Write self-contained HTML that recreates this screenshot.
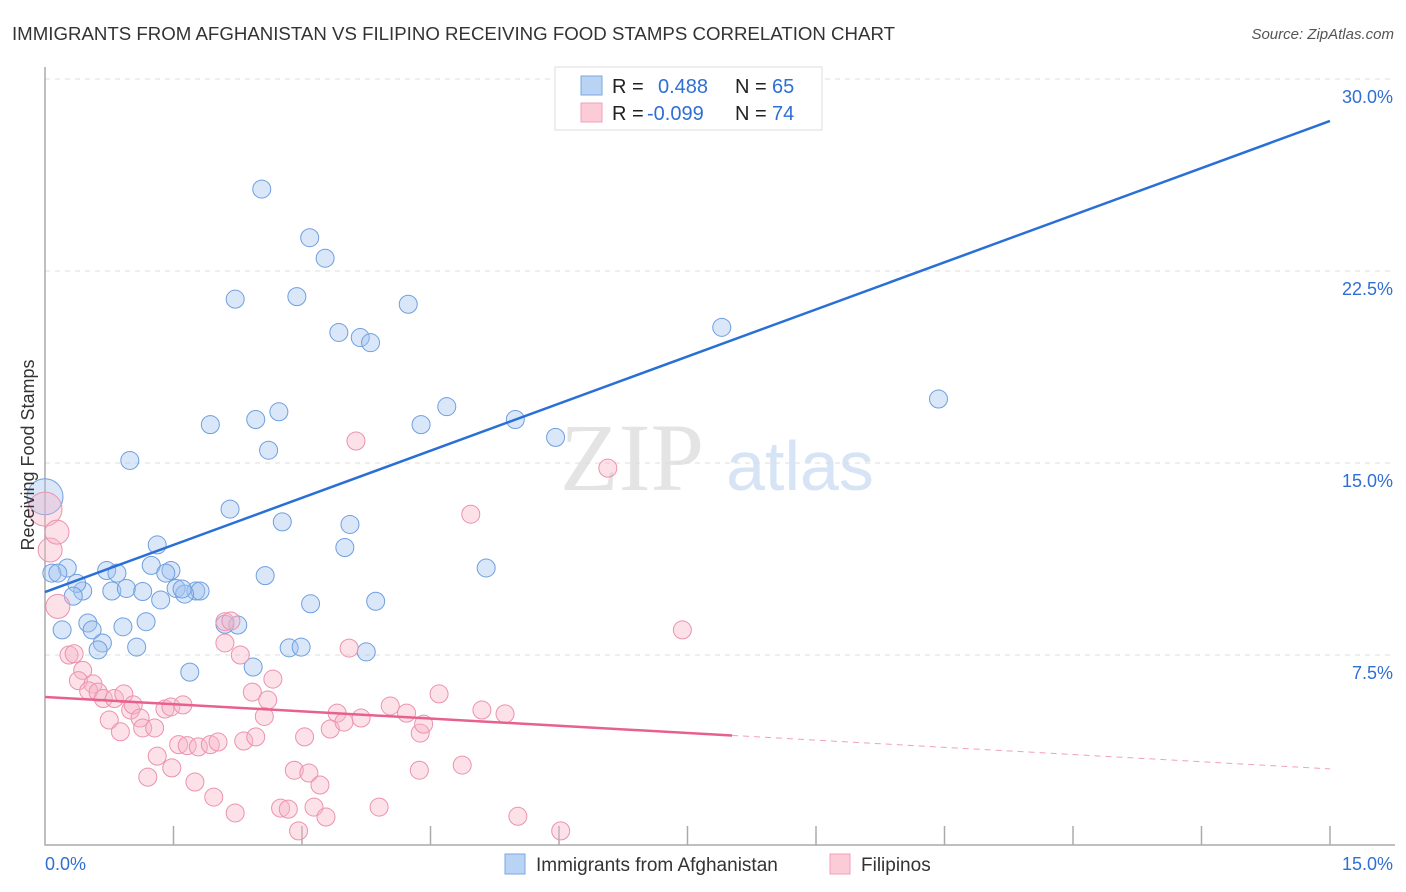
<!DOCTYPE html>
<html><head><meta charset="utf-8"><style>
body{margin:0;background:#fff;font-family:"Liberation Sans",sans-serif;}
svg{display:block}
</style></head><body>
<svg id="c" width="1406" height="892" xmlns="http://www.w3.org/2000/svg">
<text x="12" y="40" font-size="18" fill="#333" textLength="883" lengthAdjust="spacingAndGlyphs">IMMIGRANTS FROM AFGHANISTAN VS FILIPINO RECEIVING FOOD STAMPS CORRELATION CHART</text>
<text x="1394" y="39" font-size="15" fill="#555" font-style="italic" text-anchor="end">Source: ZipAtlas.com</text>
<text x="632" y="490" font-size="96" fill="#e4e4e4" font-family="Liberation Serif,serif" text-anchor="middle">ZIP</text>
<text x="800" y="490" font-size="70" fill="#d6e4f5" text-anchor="middle">atlas</text>
<g id="grid"></g>
<g id="pts"></g>
<g id="lines"></g>
<text transform="translate(34,455) rotate(-90)" font-size="18" fill="#333" text-anchor="middle">Receiving Food Stamps</text>
<g>
<rect x="555" y="67" width="267" height="63" fill="#fff" stroke="#ddd"/>
<rect x="581" y="76" width="21" height="19" fill="#b9d3f4" stroke="#7aa7e0"/>
<rect x="581" y="103" width="21" height="19" fill="#fbcbd8" stroke="#f0a0b8"/>
<text font-size="20" fill="#222"><tspan x="612" y="93">R =</tspan><tspan x="612" y="120">R =</tspan><tspan x="735" y="93">N =</tspan><tspan x="735" y="120">N =</tspan></text>
<text font-size="20" fill="#2f6fd4"><tspan x="658" y="93">0.488</tspan><tspan x="647" y="120">-0.099</tspan><tspan x="772" y="93">65</tspan><tspan x="772" y="120">74</tspan></text>
</g>
<g>
<rect x="505" y="854" width="20" height="20" fill="#b9d3f4" stroke="#7aa7e0"/>
<text x="536" y="871" font-size="19" fill="#333">Immigrants from Afghanistan</text>
<rect x="830" y="854" width="20" height="20" fill="#fbcbd8" stroke="#f0a0b8"/>
<text x="861" y="871" font-size="19" fill="#333">Filipinos</text>
</g>
</svg>
<script>
const yTicks=[7.5,15,22.5,30];
const xTickLabels=["0.0%","15.0%"];
const blueX=[2.53,3.09,3.27,2.22,2.94,4.24,3.43,3.68,3.80,7.90,10.43,4.69,5.49,4.39,1.93,2.73,2.46,5.96,2.61,0.99,2.16,2.77,3.56,1.31,3.50,1.24,1.47,0.26,0.44,0.78,1.76,1.81,0.72,0.08,0.15,0.84,1.41,2.57,5.15,0.37,0.95,1.14,1.53,1.63,1.60,0.33,1.35,3.86,3.10,0.50,1.18,0.91,2.10,2.25,0.20,0.55,0.67,0.62,1.07,2.85,2.99,3.75,1.69,2.43,0.0];
const blueY=[25.7,23.8,23.0,21.4,21.5,21.2,20.1,19.9,19.7,20.3,17.5,17.2,16.7,16.5,16.5,17.0,16.7,16.0,15.5,15.1,13.2,12.7,12.6,11.8,11.7,11.0,10.8,10.9,10.0,10.0,10.0,10.0,10.8,10.7,10.7,10.7,10.7,10.6,10.9,10.3,10.1,9.98,10.1,9.88,10.08,9.8,9.65,9.6,9.5,8.75,8.8,8.6,8.7,8.67,8.48,8.48,7.97,7.7,7.81,7.78,7.81,7.62,6.83,7.03,13.68];
const blueR=[9,9,9,9,9,9,9,9,9,9,9,9,9,9,9,9,9,9,9,9,9,9,9,9,9,9,9,9,9,9,9,9,9,9,9,9,9,9,9,9,9,9,9,9,9,9,9,9,9,9,9,9,9,9,9,9,9,9,9,9,9,9,9,9,18];
const pinkX=[0.0,0.06,0.14,0.15,0.28,0.34,0.44,0.39,0.56,0.51,0.62,0.68,0.75,0.81,0.88,0.92,1.00,1.03,1.11,1.14,1.28,1.20,1.31,1.48,1.40,1.47,1.61,1.56,1.66,1.75,1.79,1.93,1.97,2.02,2.10,2.17,2.10,2.22,2.28,2.32,2.42,2.46,2.56,2.60,2.66,2.75,2.84,2.96,2.91,3.08,3.03,3.14,3.21,3.28,3.33,3.41,3.49,3.55,3.69,3.63,4.03,3.90,4.22,4.37,4.38,4.42,4.60,4.87,4.97,5.10,5.37,5.52,6.02,6.57,7.44];
const pinkY=[13.2,11.6,12.3,9.4,7.5,7.55,6.9,6.5,6.37,6.1,6.05,5.8,4.96,5.8,4.5,5.98,5.35,5.55,5.04,4.65,4.65,2.73,3.55,3.09,5.39,5.47,5.55,4.0,3.96,2.54,3.91,4.0,1.95,4.1,8.8,8.83,7.97,1.33,7.5,4.14,6.05,4.3,5.1,5.74,6.56,1.52,1.48,0.63,3.0,2.89,4.3,1.56,2.42,1.17,4.61,5.23,4.88,7.77,5.04,15.86,5.51,1.56,5.23,3.0,4.45,4.8,5.98,3.2,13.0,5.35,5.2,1.2,0.63,14.8,8.48];
const blueLine=[9.96,28.36];
const pinkLine=[5.86,3.05];
const pinkSolidEnd=8.02;
const X0=45,X1=1330,XMAX=15,Y0=847,PX=25.6;
const sx=v=>X0+v/XMAX*(X1-X0);
const sy=v=>Y0-v*PX;
const NS="http://www.w3.org/2000/svg";
function mk(tag,attrs,parent){const e=document.createElementNS(NS,tag);for(const k in attrs)e.setAttribute(k,attrs[k]);parent.appendChild(e);return e;}
const grid=document.getElementById('grid');
yTicks.forEach((t,i)=>{
 const l=mk('line',{x1:X0,x2:1395,y1:sy(t),y2:sy(t),stroke:'#ddd','stroke-dasharray':'5,5'},grid);
 
 
 const tx=mk('text',{x:1393,y:sy(t)+24,'font-size':18,fill:'#2f6fd4','text-anchor':'end'},grid);
 tx.textContent=t.toFixed(1)+'%';
 
 
});
const ax=mk('path',{d:`M${X0} 67V845H1395`,stroke:'#aaa',fill:'none','stroke-width':1.5},grid);


for(let i=1;i<=10;i++){const xx=sx(i*1.5);const t=mk('line',{x1:xx,x2:xx,y1:826,y2:845,stroke:'#aaa','stroke-width':1.5},grid);
 
 }
[[45,'start',xTickLabels[0]],[1393,'end',xTickLabels[1]]].forEach(([x,a,s])=>{const t=mk('text',{x:x,y:870,'font-size':18,fill:'#2f6fd4','text-anchor':a},grid);t.textContent=s;
 
 });
const pts=document.getElementById('pts');
blueX.forEach((v,i)=>{const c=mk('circle',{cx:sx(v),cy:sy(blueY[i]),r:blueR[i],fill:'rgba(160,196,240,0.4)',stroke:'#6f9fdf','stroke-width':1},pts);
 
 });
pinkX.forEach((v,i)=>{const r=i==0?17:(i<4?12:9);const c=mk('circle',{cx:sx(v),cy:sy(pinkY[i]),r:r,fill:'rgba(248,180,200,0.4)',stroke:'#ec92ae','stroke-width':1},pts);
 
 });
const L=document.getElementById('lines');
const bl=mk('line',{x1:sx(0),y1:sy(blueLine[0]),x2:sx(15),y2:sy(blueLine[1]),stroke:'#2a6fd6','stroke-width':2.5},L);


const py=x=>pinkLine[0]+(pinkLine[1]-pinkLine[0])*x/15;
const pl=mk('line',{x1:sx(0),y1:sy(py(0)),x2:sx(pinkSolidEnd),y2:sy(py(pinkSolidEnd)),stroke:'#e8608f','stroke-width':2.5},L);


const pd=mk('line',{x1:sx(pinkSolidEnd),y1:sy(py(pinkSolidEnd)),x2:sx(15),y2:sy(py(15)),stroke:'#e8608f','stroke-width':1,'stroke-dasharray':'6,5',opacity:0.6},L);


</script>
</body></html>
